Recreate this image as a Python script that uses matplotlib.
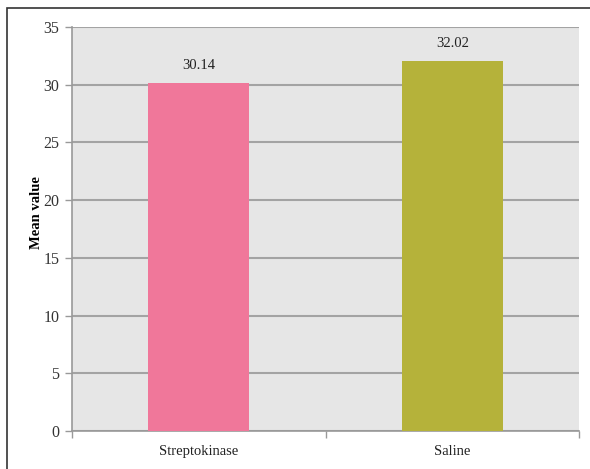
import matplotlib.pyplot as plt
import matplotlib.patches as patches
import numpy as np

groups = ['Streptokinase', 'Saline']
means = [30.14, 32.02]
bar_colors = ['#F0779A', '#B5B23A']
y_ticks = [0, 5, 10, 15, 20, 25, 30, 35]

plt.rcParams['font.family'] = ['Liberation Serif', 'DejaVu Serif']

fig = plt.figure(figsize=(5.9, 4.69), dpi=100)
fig.patch.set_facecolor('white')

# outer frame of the chart object (only top and left edges are inside the image)
frame = patches.Rectangle((7 / 590, -0.05), 1.2, 1 - 8 / 469 + 0.05,
                          transform=fig.transFigure, fill=False,
                          edgecolor='#333333', linewidth=1.2)
fig.patches.append(frame)

ax = fig.add_axes([72 / 590, 1 - 431 / 469, 507 / 590, 404 / 469])
ax.set_facecolor('#E6E6E6')

x = np.arange(len(groups))
ax.bar(x, means, width=0.4, color=bar_colors, zorder=3)

for xi, m in zip(x, means):
    ax.text(xi, m + 1.0, '{:.2f}'.format(m), ha='center', va='bottom',
            fontsize=10.5, color='#222222')

ax.set_xlim(-0.5, 1.5)
ax.set_ylim(0, 35)
ax.set_yticks(y_ticks)
ax.set_yticklabels([str(t) for t in y_ticks], fontsize=11.5, color='#333333')
ax.yaxis.grid(True, color='#A3A3A3', linewidth=1.5, zorder=0)
ax.set_axisbelow(True)

ax.set_xticks(x)
ax.set_xticklabels(groups, fontsize=10.5, color='#222222')
ax.tick_params(axis='x', length=0, pad=10)
ax.set_xticks([-0.5, 0.5, 1.5], minor=True)
ax.tick_params(axis='x', which='minor', length=5, color='#999999', width=1)
ax.tick_params(axis='y', length=5, color='#999999', width=1, pad=4)

for side in ['top', 'right']:
    ax.spines[side].set_visible(False)
for side in ['left', 'bottom']:
    ax.spines[side].set_color('#999999')
    ax.spines[side].set_linewidth(1.2)

ax.set_ylabel('Mean value', fontsize=10.5, fontweight='bold', labelpad=2)
ax.yaxis.set_label_coords(-0.058, 0.54)

fig.savefig('out.png', dpi=100)
